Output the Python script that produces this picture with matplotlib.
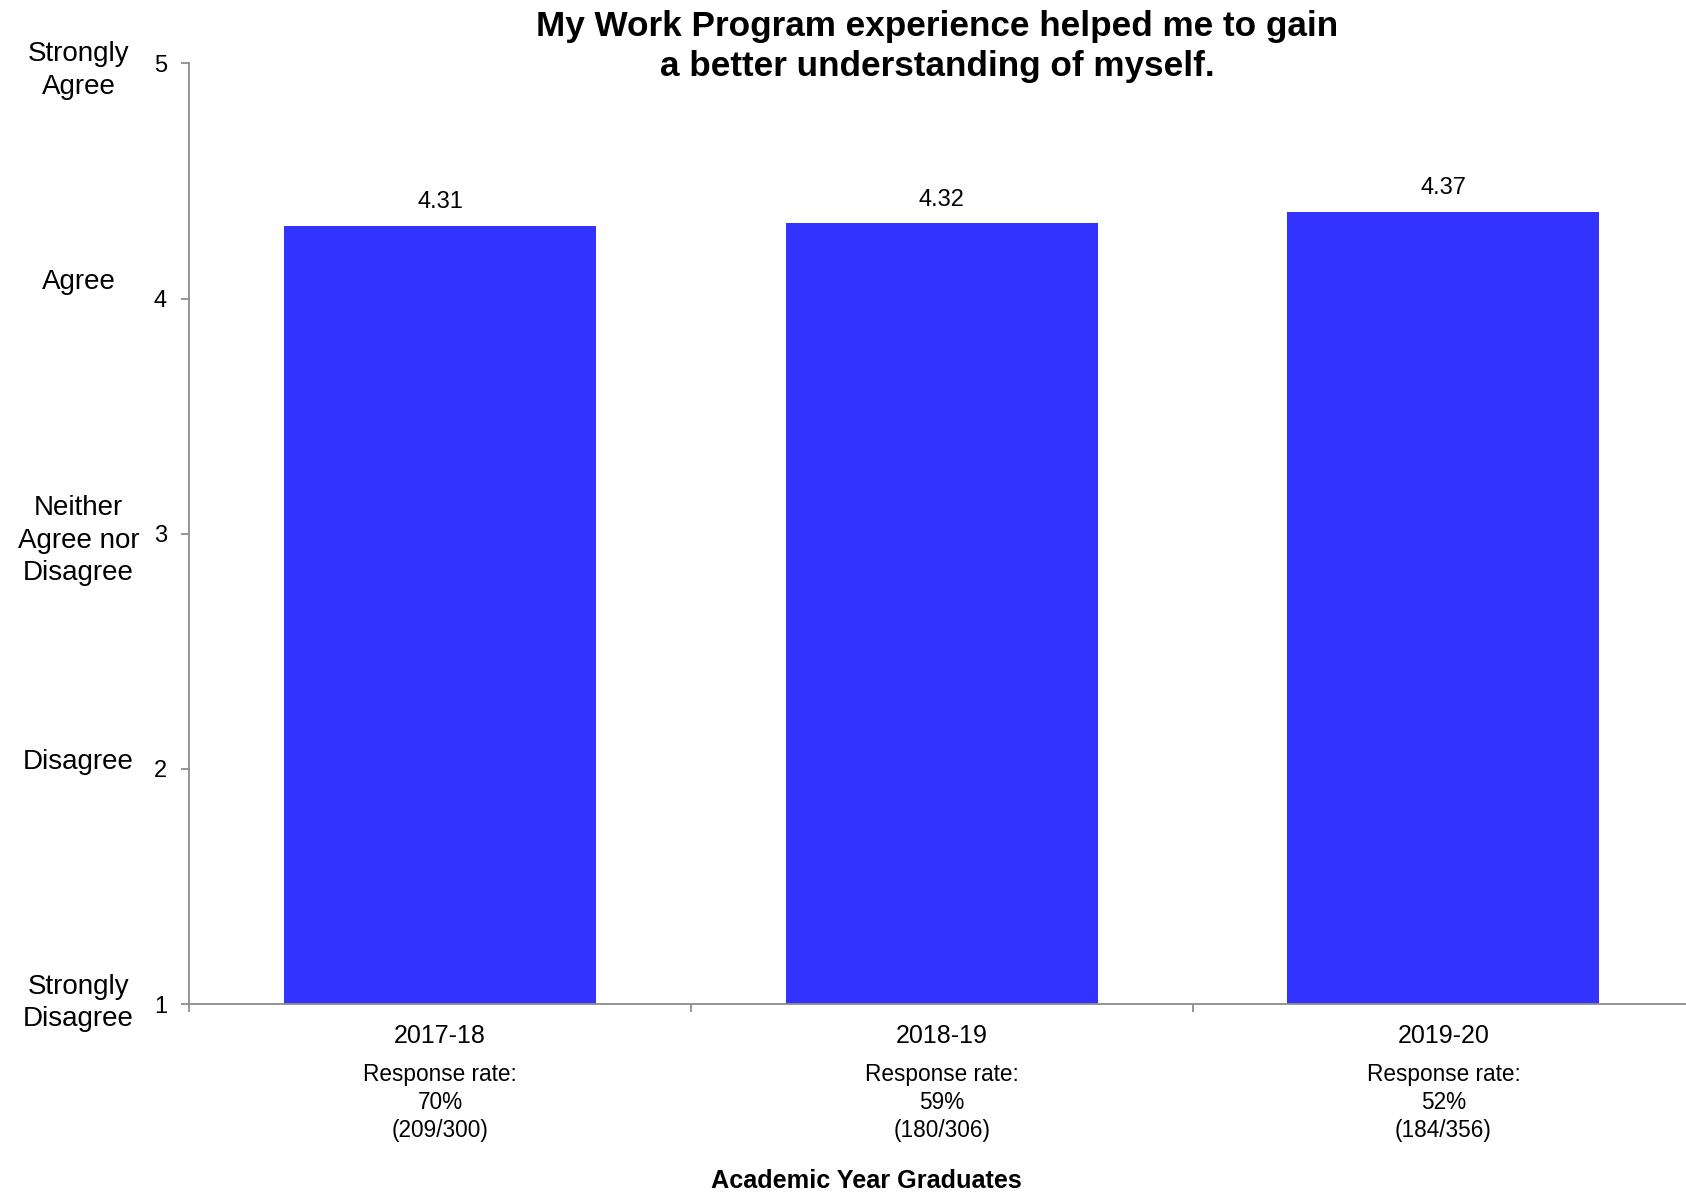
import matplotlib.pyplot as plt
from matplotlib.transforms import blended_transform_factory

plt.rcParams['font.family'] = ['Liberation Sans', 'DejaVu Sans']

# data
years = ["2017-18", "2018-19", "2019-20"]
means = [4.31, 4.32, 4.37]
rates = ["70%", "59%", "52%"]
counts = ["(209/300)", "(180/306)", "(184/356)"]
scale_values = [5, 4, 3, 2, 1]
scale_labels = ["Strongly\nAgree", "Agree", "Neither\nAgree nor\nDisagree", "Disagree", "Strongly\nDisagree"]

# small vertical nudges for the scale words (layout only)
nudge = [-0.03, 0.07, -0.03, 0.03, 0.005]

fig = plt.figure(figsize=(16.86, 11.92), dpi=100)
ax = fig.add_axes([0.1123, 0.1577, 0.8926, 0.7891])

x = range(len(years))
bars = ax.bar(x, means, width=0.622, color="#3333FF")
ax.set_xlim(-0.5, 2.5)
ax.set_ylim(1, 5)

for i, v in enumerate(means):
    ax.annotate(f"{v:.2f}", (i, v), xytext=(0, 17), textcoords="offset points",
                ha="center", va="center", fontsize=17)

# spines
for s in ["top", "right"]:
    ax.spines[s].set_visible(False)
for s in ["left", "bottom"]:
    ax.spines[s].set_color("#8c8c8c")
    ax.spines[s].set_linewidth(1.3)

ax.set_yticks(scale_values)
ax.tick_params(axis="y", length=6, color="#8c8c8c", width=1.3, labelsize=17, pad=10)

ax.set_xticks(list(x))
ax.set_xticklabels(years, fontsize=18)
ax.tick_params(axis="x", which="major", length=0, pad=14.5)
ax.set_xticks([-0.5, 0.5, 1.5], minor=True)
ax.tick_params(axis="x", which="minor", length=6, color="#8c8c8c", width=1.3)

# response rates under each year
for i in x:
    ax.annotate(f"Response rate:\n{rates[i]}\n{counts[i]}", (i, 1), xytext=(0, -71),
                textcoords="offset points", ha="center", va="center",
                fontsize=16.3, linespacing=1.28, annotation_clip=False)

# agreement words next to the numbers
tr = blended_transform_factory(fig.transFigure, ax.transData)
for v, lab, n in zip(scale_values, scale_labels, nudge):
    ax.text(0.0465, v + n, lab, transform=tr, ha="center", va="center",
            fontsize=20, linespacing=1.33, clip_on=False)

fig.text(0.556, 0.961, "My Work Program experience helped me to gain\na better understanding of myself.",
         ha="center", va="center", fontsize=25.3, fontweight="bold", linespacing=1.28)
fig.text(0.514, 0.0095, "Academic Year Graduates", ha="center", va="center",
         fontsize=18.2, fontweight="bold")

fig.savefig("out.png", dpi=100)
